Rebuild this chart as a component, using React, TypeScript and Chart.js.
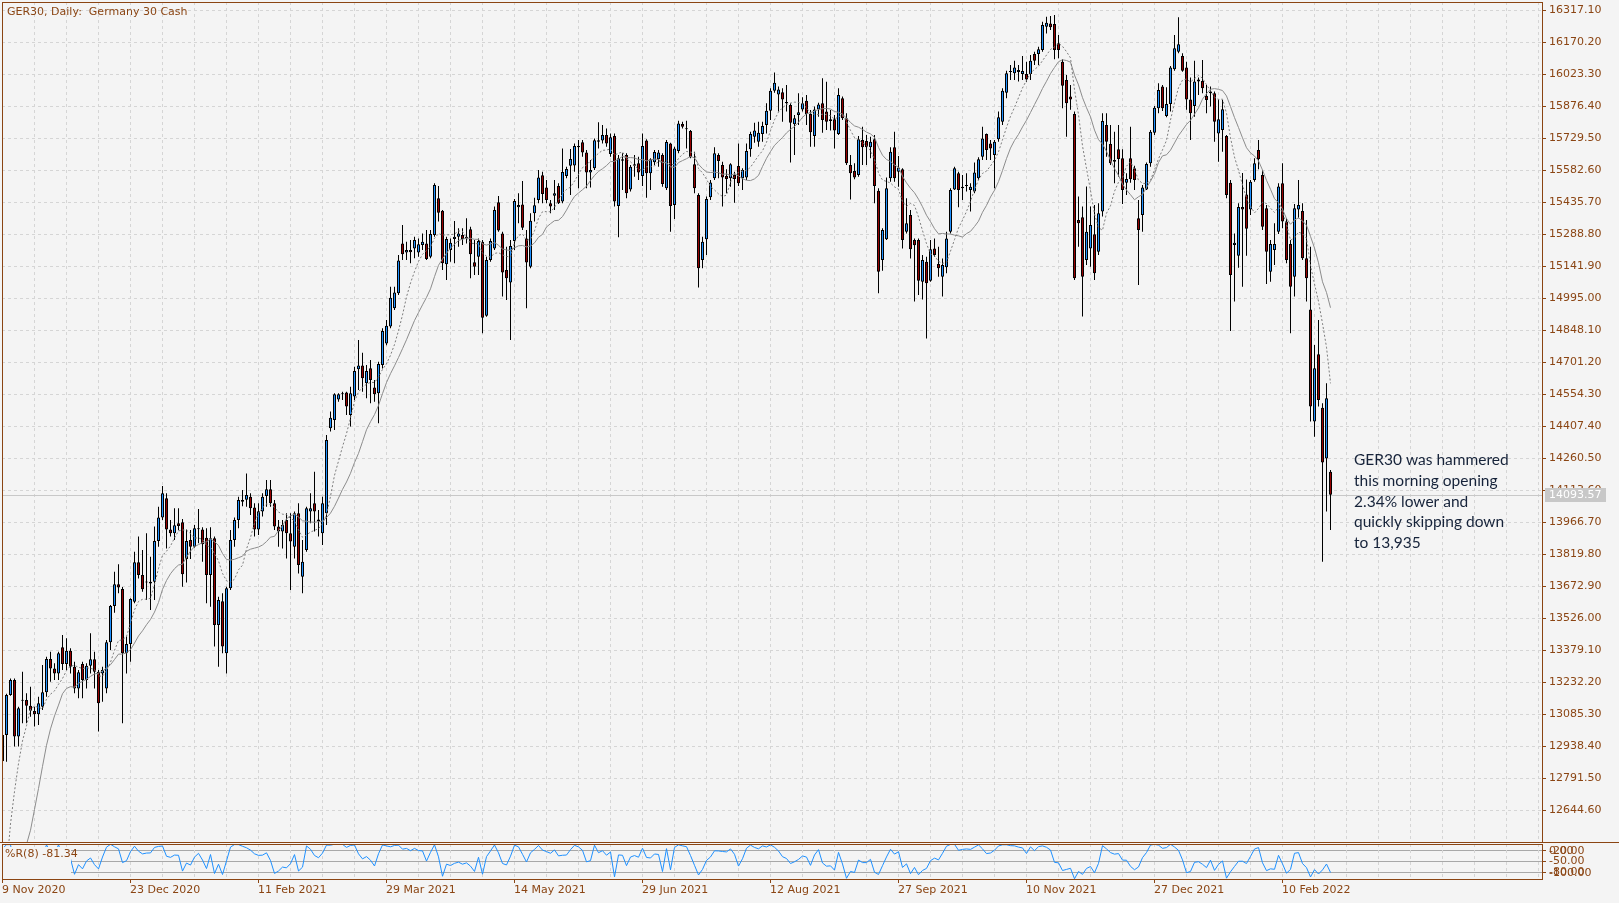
import React, { useEffect, useRef } from 'react';
import { Chart, registerables } from 'chart.js';

Chart.register(...registerables);

// ---------------- DATA ----------------
const opens = [
  12870, 12990, 13174, 13243, 12983, 13148, 13151, 13125, 13100, 13085,
  13120, 13186, 13339, 13296, 13273, 13393, 13316, 13377, 13304, 13204,
  13316, 13243, 13308, 13338, 13281, 13273, 13204, 13416, 13582, 13682,
  13660, 13365, 13408, 13602, 13783, 13725, 13694, 13686, 13694, 13881,
  13989, 14077, 13934, 13916, 13962, 13967, 13798, 13885, 13855, 13939,
  13934, 13896, 13725, 13893, 13495, 13604, 13365, 13664, 13885, 13977,
  14069, 14070, 14084, 14035, 13934, 14016, 14087, 14118, 14054, 13947,
  13924, 13977, 13916, 13855, 14008, 13717, 13840, 14016, 14054, 13973,
  13916, 14008, 14398, 14436, 14531, 14554, 14563, 14459, 14544, 14669,
  14686, 14605, 14674, 14585, 14559, 14689, 14788, 14865, 14949, 15018,
  15247, 15205, 15217, 15224, 15205, 15240, 15247, 15186, 15286, 15454,
  15397, 15151, 15217, 15267, 15278, 15286, 15270, 15312, 15160, 15186,
  15255, 14915, 15171, 15224, 15436, 15293, 15125, 15068, 15258, 15413,
  15426, 15270, 15140, 15385, 15446, 15560, 15504, 15431, 15466, 15511,
  15439, 15556, 15604, 15605, 15688, 15711, 15664, 15572, 15592, 15714,
  15719, 15745, 15657, 15740, 15419, 15627, 15653, 15495, 15604, 15615,
  15556, 15719, 15569, 15619, 15633, 15653, 15500, 15706, 15423, 15671,
  15795, 15775, 15763, 15610, 15469, 15171, 15266, 15459, 15546, 15653,
  15607, 15556, 15546, 15561, 15602, 15546, 15550, 15679, 15737, 15714,
  15749, 15791, 15856, 15948, 15931, 15941, 15896, 15882, 15794, 15836,
  15862, 15902, 15841, 15740, 15862, 15890, 15852, 15817, 15817, 15749,
  15913, 15821, 15607, 15579, 15561, 15722, 15717, 15688, 15725, 15489,
  15171, 15266, 15546, 15688, 15576, 15587, 15301, 15377, 15263, 15263,
  15071, 15163, 15076, 15224, 15152, 15094, 15137, 15301, 15495, 15569,
  15500, 15511, 15492, 15485, 15546, 15645, 15749, 15706, 15653, 15725,
  15806, 15939, 16034, 16028, 16043, 16025, 16025, 16025, 16117, 16117,
  16135, 16242, 16257, 16254, 16166, 16081, 15997, 15921, 15841, 15355,
  15367, 15171, 15224, 15289, 15209, 15393, 15791, 15703, 15630, 15679,
  15638, 15526, 15638, 15592, 15362, 15377, 15495, 15615, 15755, 15867,
  15967, 15832, 15887, 16046, 16127, 16107, 16055, 15908, 15878, 15990,
  15993, 15924, 15944, 15936, 15752, 15768, 15740, 15526, 15240, 15190,
  15414, 15472, 15403, 15538, 15676, 15561, 15408, 15117, 15217, 15301,
  15523, 15347, 15244, 15094, 15403, 15396, 15179, 14944, 14429, 14738,
  14493, 14260, 14199,
];

const highs = [
  13010, 13180, 13250, 13250, 13120, 13281, 13182, 13212, 13120, 13166,
  13312, 13350, 13373, 13320, 13373, 13449, 13434, 13388, 13327, 13289,
  13327, 13320, 13457, 13373, 13289, 13304, 13426, 13587, 13740, 13774,
  13670, 13442, 13618, 13832, 13901, 13840, 13916, 13809, 13947, 14038,
  14133, 14100, 13977, 14031, 14031, 13982, 13934, 13931, 13954, 14028,
  13944, 13939, 13944, 13901, 13625, 13641, 13671, 13931, 13989, 14084,
  14115, 14191, 14100, 14054, 14054, 14100, 14161, 14161, 14069, 13977,
  13977, 14008, 14008, 14016, 14054, 13885, 14038, 14100, 14199, 14023,
  14084, 14368, 14475, 14559, 14559, 14566, 14566, 14589, 14681, 14804,
  14745, 14689, 14712, 14620, 14704, 14857, 14895, 15048, 15048, 15194,
  15332, 15255, 15263, 15278, 15270, 15293, 15309, 15309, 15523, 15511,
  15400, 15278, 15270, 15350, 15316, 15316, 15362, 15324, 15263, 15270,
  15263, 15186, 15270, 15416, 15465, 15301, 15232, 15263, 15451, 15477,
  15534, 15309, 15385, 15457, 15584, 15576, 15538, 15446, 15538, 15523,
  15683, 15599, 15680, 15706, 15722, 15722, 15676, 15630, 15729, 15803,
  15791, 15775, 15752, 15752, 15653, 15661, 15661, 15607, 15653, 15645,
  15752, 15725, 15638, 15676, 15676, 15661, 15722, 15709, 15691, 15810,
  15806, 15810, 15768, 15668, 15477, 15278, 15462, 15538, 15688, 15661,
  15622, 15587, 15615, 15576, 15706, 15592, 15706, 15760, 15801, 15806,
  15806, 15890, 15959, 16031, 15967, 15959, 15974, 15890, 15836, 15936,
  15918, 15928, 15859, 15875, 15893, 16005, 15989, 15859, 15836, 15959,
  15921, 15844, 15653, 15615, 15740, 15783, 15745, 15737, 15745, 15500,
  15316, 15550, 15688, 15760, 15648, 15592, 15454, 15400, 15270, 15270,
  15194, 15186, 15263, 15270, 15232, 15178, 15301, 15500, 15599, 15576,
  15561, 15569, 15523, 15618, 15642, 15783, 15752, 15722, 15722, 15852,
  15959, 16040, 16066, 16086, 16066, 16107, 16081, 16112, 16127, 16150,
  16265, 16288, 16291, 16296, 16204, 16092, 16020, 15974, 15852, 15462,
  15416, 15508, 15416, 15423, 15431, 15844, 15844, 15791, 15760, 15791,
  15679, 15569, 15783, 15604, 15446, 15515, 15618, 15768, 15878, 15982,
  15974, 15964, 16061, 16204, 16285, 16120, 16081, 16009, 16086, 16009,
  16089, 15974, 15967, 15944, 15908, 15905, 15745, 15538, 15293, 15431,
  15570, 15540, 15538, 15638, 15722, 15584, 15423, 15263, 15339, 15523,
  15615, 15362, 15263, 15428, 15538, 15431, 15355, 15232, 14781, 14895,
  14513, 14605, 14207,
];

const lows = [
  12860, 12868, 13170, 12937, 12937, 13044, 13044, 13074, 13029, 13036,
  13105, 13166, 13235, 13243, 13243, 13289, 13289, 13273, 13182, 13159,
  13159, 13204, 13273, 13204, 13006, 13143, 13182, 13380, 13552, 13641,
  13044, 13273, 13327, 13595, 13709, 13648, 13610, 13564, 13610, 13855,
  13977, 13847, 13901, 13885, 13930, 13671, 13690, 13798, 13850, 13870,
  13786, 13595, 13579, 13396, 13304, 13365, 13273, 13656, 13855, 13939,
  14040, 14038, 14000, 13901, 13908, 13993, 14038, 14038, 13931, 13854,
  13847, 13801, 13656, 13801, 13732, 13641, 13832, 13962, 13924, 13901,
  13862, 13954, 14383, 14390, 14520, 14528, 14459, 14406, 14528, 14574,
  14566, 14536, 14513, 14520, 14421, 14673, 14780, 14857, 14941, 15010,
  15171, 15171, 15156, 15179, 15186, 15217, 15171, 15179, 15278, 15347,
  15125, 15079, 15163, 15156, 15232, 15240, 15247, 15087, 15102, 15102,
  14834, 14910, 15163, 15217, 15301, 15003, 14987, 14804, 15217, 15339,
  15309, 14949, 15133, 15347, 15431, 15431, 15431, 15385, 15400, 15428,
  15431, 15546, 15469, 15576, 15500, 15645, 15500, 15504, 15584, 15683,
  15706, 15691, 15645, 15416, 15275, 15492, 15454, 15485, 15553, 15538,
  15511, 15457, 15492, 15607, 15599, 15507, 15492, 15301, 15359, 15661,
  15775, 15683, 15638, 15477, 15045, 15133, 15194, 15446, 15538, 15546,
  15416, 15477, 15507, 15434, 15511, 15492, 15538, 15645, 15709, 15691,
  15714, 15752, 15814, 15939, 15852, 15806, 15852, 15618, 15653, 15791,
  15852, 15791, 15691, 15691, 15829, 15755, 15768, 15765, 15683, 15745,
  15814, 15607, 15449, 15541, 15553, 15607, 15607, 15638, 15431, 15018,
  15122, 15263, 15530, 15530, 15507, 15224, 15293, 15178, 14980, 15010,
  14990, 14811, 15071, 15186, 15094, 15003, 15110, 15293, 15492, 15413,
  15446, 15485, 15393, 15477, 15538, 15630, 15630, 15630, 15500, 15714,
  15791, 15913, 15997, 15997, 15990, 15997, 15989, 15997, 16066, 16066,
  16127, 16211, 16227, 16092, 16097, 15867, 15737, 15860, 15079, 15232,
  14911, 15148, 15140, 15079, 15194, 15370, 15645, 15607, 15523, 15553,
  15428, 15469, 15526, 15492, 15056, 15301, 15492, 15599, 15745, 15844,
  15855, 15826, 15852, 16040, 16120, 16035, 15860, 15722, 15829, 15928,
  15936, 15844, 15875, 15714, 15622, 15668, 15454, 14845, 14980, 15135,
  15048, 15190, 15377, 15530, 15587, 15309, 15061, 15071, 15148, 15290,
  15316, 15156, 14834, 15003, 15362, 15171, 14980, 14429, 14360, 14498,
  13786, 14016, 13931,
];

const closes = [
  12990, 13174, 13243, 12983, 13113, 13151, 13125, 13102, 13085, 13136,
  13186, 13339, 13296, 13273, 13365, 13316, 13377, 13304, 13204, 13278,
  13243, 13308, 13338, 13281, 13136, 13289, 13416, 13582, 13682, 13667,
  13365, 13408, 13615, 13783, 13725, 13659, 13690, 13694, 13881, 13989,
  14100, 13934, 13916, 13953, 13950, 13728, 13881, 13855, 13939, 13935,
  13866, 13725, 13893, 13495, 13610, 13396, 13664, 13885, 13977, 14069,
  14061, 14092, 14031, 13934, 14017, 14084, 14118, 14054, 13947, 13924,
  13954, 13916, 13878, 14008, 13771, 13786, 14031, 14031, 14016, 13980,
  14054, 14345, 14447, 14554, 14554, 14559, 14498, 14559, 14661, 14686,
  14628, 14661, 14620, 14554, 14693, 14845, 14869, 14998, 15022, 15168,
  15197, 15217, 15206, 15263, 15243, 15255, 15175, 15290, 15515, 15388,
  15156, 15267, 15250, 15278, 15293, 15267, 15278, 15197, 15140, 15258,
  14906, 15171, 15258, 15400, 15306, 15114, 15087, 15235, 15442, 15423,
  15319, 15159, 15351, 15422, 15550, 15474, 15446, 15416, 15477, 15431,
  15575, 15589, 15635, 15694, 15694, 15664, 15572, 15584, 15720, 15720,
  15745, 15706, 15734, 15439, 15638, 15633, 15477, 15599, 15610, 15572,
  15694, 15569, 15633, 15667, 15664, 15520, 15713, 15419, 15683, 15798,
  15783, 15771, 15642, 15500, 15133, 15255, 15451, 15527, 15661, 15625,
  15550, 15543, 15610, 15543, 15523, 15584, 15671, 15749, 15765, 15755,
  15786, 15856, 15948, 15985, 15954, 15908, 15890, 15801, 15821, 15849,
  15890, 15841, 15757, 15862, 15885, 15814, 15806, 15809, 15765, 15928,
  15821, 15615, 15569, 15550, 15725, 15688, 15688, 15714, 15511, 15117,
  15309, 15500, 15668, 15546, 15596, 15263, 15339, 15220, 15238, 15076,
  15171, 15064, 15220, 15194, 15133, 15148, 15270, 15492, 15592, 15492,
  15507, 15515, 15507, 15572, 15633, 15729, 15676, 15683, 15714, 15826,
  15948, 16028, 16039, 16055, 16034, 16039, 16000, 16086, 16086, 16138,
  16250, 16260, 16239, 16135, 16135, 15971, 15890, 15908, 15087, 15339,
  15094, 15301, 15332, 15110, 15385, 15809, 15714, 15615, 15622, 15635,
  15492, 15543, 15541, 15538, 15309, 15504, 15612, 15760, 15870, 15951,
  15867, 15887, 16055, 16143, 16161, 16040, 15908, 15844, 15990, 16000,
  15959, 15905, 15936, 15806, 15817, 15863, 15469, 15102, 15250, 15414,
  15403, 15314, 15530, 15615, 15633, 15324, 15209, 15244, 15244, 15508,
  15347, 15171, 15048, 15408, 15423, 15179, 15087, 14498, 14674, 14528,
  14241, 14536, 14093.57,
];

// closes before the first visible bar (they only feed the moving averages)
const warmupCloses = [12860, 12740, 12560, 12540, 12650, 12180, 12060, 11560, 11600, 11560, 11790, 12090, 12320, 12570, 12480];

const priceTicks = [
  12644.6, 12791.5, 12938.4, 13085.3, 13232.2, 13379.1, 13526.0, 13672.9, 13819.8,
  13966.7, 14113.6, 14260.5, 14407.4, 14554.3, 14701.2, 14848.1, 14995.0, 15141.9,
  15288.8, 15435.7, 15582.6, 15729.5, 15876.4, 16023.3, 16170.2, 16317.1,
];

const xTickBars = [0, 32, 64, 96, 128, 160, 192, 224, 256, 288, 320];
const xTickLabels = [
  '9 Nov 2020', '23 Dec 2020', '11 Feb 2021', '29 Mar 2021', '14 May 2021', '29 Jun 2021',
  '12 Aug 2021', '27 Sep 2021', '10 Nov 2021', '27 Dec 2021', '10 Feb 2022',
];

const lastPrice = 14093.57;
const wprLevels = [-20, -50, -80];
const wprEdgeLabels = ['0.00', '-100.00'];
const titleText = 'GER30, Daily:  Germany 30 Cash';
const wprLabel = '%R(8) -81.34';
const noteLines = [
  'GER30 was hammered',
  'this morning opening',
  '2.34% lower and',
  'quickly skipping down',
  'to 13,935',
];

// ---------------- STYLE ----------------
const BROWN = '#8B4513';
const BG = '#F4F4F4';
const GRID = '#D5D5D5';
const UP = '#1E90FF';
const DOWN = '#960000';
const FONT = '"DejaVu Sans", sans-serif';
const X_MIN = -0.125;
const X_MAX = 384.875;
const IND_TOP = 836; // page y of the indicator canvas

function sma(period: number) {
  const all = warmupCloses.concat(closes);
  const off = warmupCloses.length;
  const out: { x: number; y: number }[] = [];
  for (let i = 0; i < closes.length; i++) {
    const end = off + i;
    const start = end - period + 1;
    if (start < 0) continue;
    let s = 0;
    for (let j = start; j <= end; j++) s += all[j];
    out.push({ x: i, y: s / period });
  }
  return out;
}

function williamsR(period: number) {
  return closes.map((c, i) => {
    const s = Math.max(0, i - period + 1);
    let hh = -Infinity;
    let ll = Infinity;
    for (let j = s; j <= i; j++) {
      hh = Math.max(hh, highs[j]);
      ll = Math.min(ll, lows[j]);
    }
    return { x: i, y: hh === ll ? 0 : ((hh - c) / (hh - ll)) * -100 };
  });
}

const gridBars: number[] = [];
for (let b = 8; b <= 384; b += 8) gridBars.push(b);

export default function App() {
  const mainRef = useRef<HTMLCanvasElement | null>(null);
  const indRef = useRef<HTMLCanvasElement | null>(null);

  useEffect(() => {
    if (!mainRef.current || !indRef.current) return;

    const mainDecor = {
      id: 'mainDecor',
      beforeDatasetsDraw(chart: any) {
        const { ctx, chartArea: a, scales } = chart;
        const y = Math.round(scales.y.getPixelForValue(lastPrice)) + 0.5;
        ctx.save();
        ctx.strokeStyle = '#C8C8C8';
        ctx.lineWidth = 1;
        ctx.beginPath();
        ctx.moveTo(a.left, y);
        ctx.lineTo(a.right, y);
        ctx.stroke();
        ctx.restore();
      },
      afterDraw(chart: any) {
        const { ctx, chartArea: a, scales } = chart;
        ctx.save();
        // frame
        ctx.strokeStyle = BROWN;
        ctx.lineWidth = 1;
        ctx.strokeRect(a.left + 0.5, a.top + 0.5, a.right - a.left, a.bottom - a.top);
        ctx.beginPath();
        ctx.moveTo(0, a.bottom + 0.5);
        ctx.lineTo(chart.width, a.bottom + 0.5);
        ctx.stroke();
        // title
        ctx.fillStyle = BROWN;
        ctx.font = '11px ' + FONT;
        ctx.textBaseline = 'middle';
        ctx.textAlign = 'left';
        ctx.fillText(titleText, 7, 12);
        // annotation
        ctx.fillStyle = '#16233A';
        ctx.font = '15.5px Lato, "Open Sans", sans-serif';
        noteLines.forEach((t, i) => ctx.fillText(t, 1354, 460 + i * 20.8));
        // last price label
        const y = Math.round(scales.y.getPixelForValue(lastPrice));
        ctx.fillStyle = '#C8C8C8';
        ctx.fillRect(a.right + 3, y - 7, 61, 14);
        ctx.fillStyle = '#FFFFFF';
        ctx.font = '11px ' + FONT;
        ctx.fillText(lastPrice.toFixed(2), a.right + 7, y + 0.5);
        ctx.restore();
      },
    };

    const bodyColors = opens.map((o, i) => (closes[i] >= o ? UP : DOWN));

    const main = new Chart(mainRef.current, {
      type: 'bar',
      data: {
        datasets: [
          {
            type: 'line',
            label: 'MA 8',
            data: sma(8),
            borderColor: '#7C7C7C',
            borderWidth: 1,
            borderDash: [2, 2],
            pointRadius: 0,
            tension: 0,
            order: 0,
          } as any,
          {
            type: 'line',
            label: 'MA 16',
            data: sma(16),
            borderColor: '#8C8C8C',
            borderWidth: 1,
            pointRadius: 0,
            tension: 0,
            order: 0,
          } as any,
          {
            type: 'bar',
            label: 'body',
            data: opens.map((o, i) => ({ x: i, y: [o, closes[i]] })),
            backgroundColor: bodyColors,
            borderColor: '#000000',
            borderWidth: 1,
            borderSkipped: false,
            barThickness: 3,
            grouped: false,
            inflateAmount: 0,
            minBarLength: 1,
            order: 1,
          } as any,
          {
            type: 'bar',
            label: 'wick',
            data: opens.map((_, i) => ({ x: i, y: [lows[i], highs[i]] })),
            backgroundColor: '#000000',
            borderWidth: 0,
            barThickness: 1,
            grouped: false,
            inflateAmount: 0,
            order: 2,
          } as any,
        ],
      },
      options: {
        responsive: false,
        animation: false,
        devicePixelRatio: 1,
        events: [],
        layout: { padding: { left: 2, top: 2, right: 0, bottom: 2 }, autoPadding: false },
        plugins: { legend: { display: false }, tooltip: { enabled: false } },
        scales: {
          x: {
            type: 'linear',
            min: X_MIN,
            max: X_MAX,
            offset: false,
            afterBuildTicks: (s: any) => {
              s.ticks = gridBars.map((v) => ({ value: v }));
            },
            afterFit: (s: any) => {
              s.height = 0;
              s.paddingLeft = 0;
              s.paddingRight = 0;
            },
            ticks: { display: false },
            grid: { color: GRID, drawTicks: false, offset: false },
            border: { display: false, dash: [3, 3] },
          },
          y: {
            type: 'linear',
            position: 'right',
            min: 12499.08,
            max: 16355.2,
            beginAtZero: false,
            afterBuildTicks: (s: any) => {
              s.ticks = priceTicks.map((v) => ({ value: v }));
            },
            afterFit: (s: any) => {
              s.width = 77;
              s.paddingTop = 0;
              s.paddingBottom = 0;
            },
            ticks: {
              autoSkip: false,
              padding: 3,
              color: BROWN,
              font: { family: 'DejaVu Sans', size: 11 },
              callback: (v: any) => Number(v).toFixed(2),
            },
            grid: { color: GRID, tickColor: BROWN, tickLength: 4, drawTicks: true },
            border: { display: false, dash: [3, 3] },
          },
        },
      } as any,
      plugins: [mainDecor],
    });

    const indDecor = {
      id: 'indDecor',
      beforeDatasetsDraw(chart: any) {
        const { ctx, chartArea: a, scales } = chart;
        ctx.save();
        ctx.strokeStyle = GRID;
        ctx.lineWidth = 1;
        ctx.setLineDash([3, 3]);
        gridBars.forEach((b) => {
          const x = Math.round(scales.x.getPixelForValue(b) - 0.5) + 0.5;
          if (x > a.right) return;
          ctx.beginPath();
          ctx.moveTo(x, a.top);
          ctx.lineTo(x, a.bottom);
          ctx.stroke();
        });
        ctx.restore();
      },
      afterDatasetsDraw(chart: any) {
        const { ctx } = chart;
        ctx.save();
        ctx.fillStyle = BG;
        ctx.fillRect(3, 847 - IND_TOP, 68, 31);
        ctx.fillStyle = BROWN;
        ctx.font = '11px ' + FONT;
        ctx.textBaseline = 'middle';
        ctx.textAlign = 'left';
        ctx.fillText(wprLabel, 5, 854 - IND_TOP);
        ctx.restore();
      },
      afterDraw(chart: any) {
        const { ctx, chartArea: a, scales } = chart;
        ctx.save();
        ctx.strokeStyle = BROWN;
        ctx.lineWidth = 1;
        ctx.strokeRect(a.left + 0.5, a.top + 0.5, a.right - a.left, a.bottom - a.top);
        ctx.fillStyle = BROWN;
        ctx.font = '11px ' + FONT;
        ctx.textBaseline = 'middle';
        ctx.textAlign = 'left';
        ctx.fillText(wprEdgeLabels[0], a.right + 7, 851 - IND_TOP);
        ctx.fillText(wprEdgeLabels[1], a.right + 7, 873 - IND_TOP);
        // time axis: tick marks + labels
        xTickBars.forEach((b, i) => {
          const x = Math.round(scales.x.getPixelForValue(b) - 0.5) + 0.5;
          ctx.beginPath();
          ctx.moveTo(x, a.bottom);
          ctx.lineTo(x, a.bottom + 4);
          ctx.stroke();
          ctx.fillText(xTickLabels[i], x - 0.5, 890 - IND_TOP);
        });
        ctx.restore();
      },
    };

    const ind = new Chart(indRef.current, {
      type: 'line',
      data: {
        datasets: [
          {
            label: '%R(8)',
            data: williamsR(8),
            borderColor: UP,
            borderWidth: 1,
            pointRadius: 0,
            tension: 0,
          },
        ],
      },
      options: {
        responsive: false,
        animation: false,
        devicePixelRatio: 1,
        events: [],
        layout: {
          padding: { left: 2, top: 844 - IND_TOP, right: 0, bottom: 903 - 879 },
          autoPadding: false,
        },
        plugins: { legend: { display: false }, tooltip: { enabled: false } },
        scales: {
          x: {
            type: 'linear',
            min: X_MIN,
            max: X_MAX,
            offset: false,
            display: false,
          },
          y: {
            type: 'linear',
            position: 'right',
            min: -100,
            max: 0,
            afterBuildTicks: (s: any) => {
              s.ticks = wprLevels.map((v) => ({ value: v }));
            },
            afterFit: (s: any) => {
              s.width = 77;
              s.paddingTop = 0;
              s.paddingBottom = 0;
            },
            ticks: {
              autoSkip: false,
              padding: 3,
              color: BROWN,
              font: { family: 'DejaVu Sans', size: 11 },
              callback: (v: any) => Number(v).toFixed(2),
            },
            grid: { color: '#A8A8A8', tickColor: BROWN, tickLength: 4, drawTicks: true },
            border: { display: false },
          },
        },
      } as any,
      plugins: [indDecor],
    });

    return () => {
      main.destroy();
      ind.destroy();
    };
  }, []);

  return (
    <div
      style={{
        position: 'fixed',
        left: 0,
        top: 0,
        width: 1619,
        height: 903,
        background: BG,
        overflow: 'hidden',
      }}
    >
      <canvas
        ref={mainRef}
        width={1619}
        height={844}
        style={{ position: 'absolute', left: 0, top: 0, width: 1619, height: 844 }}
      />
      <canvas
        ref={indRef}
        width={1619}
        height={67}
        style={{ position: 'absolute', left: 0, top: IND_TOP, width: 1619, height: 67 }}
      />
    </div>
  );
}
